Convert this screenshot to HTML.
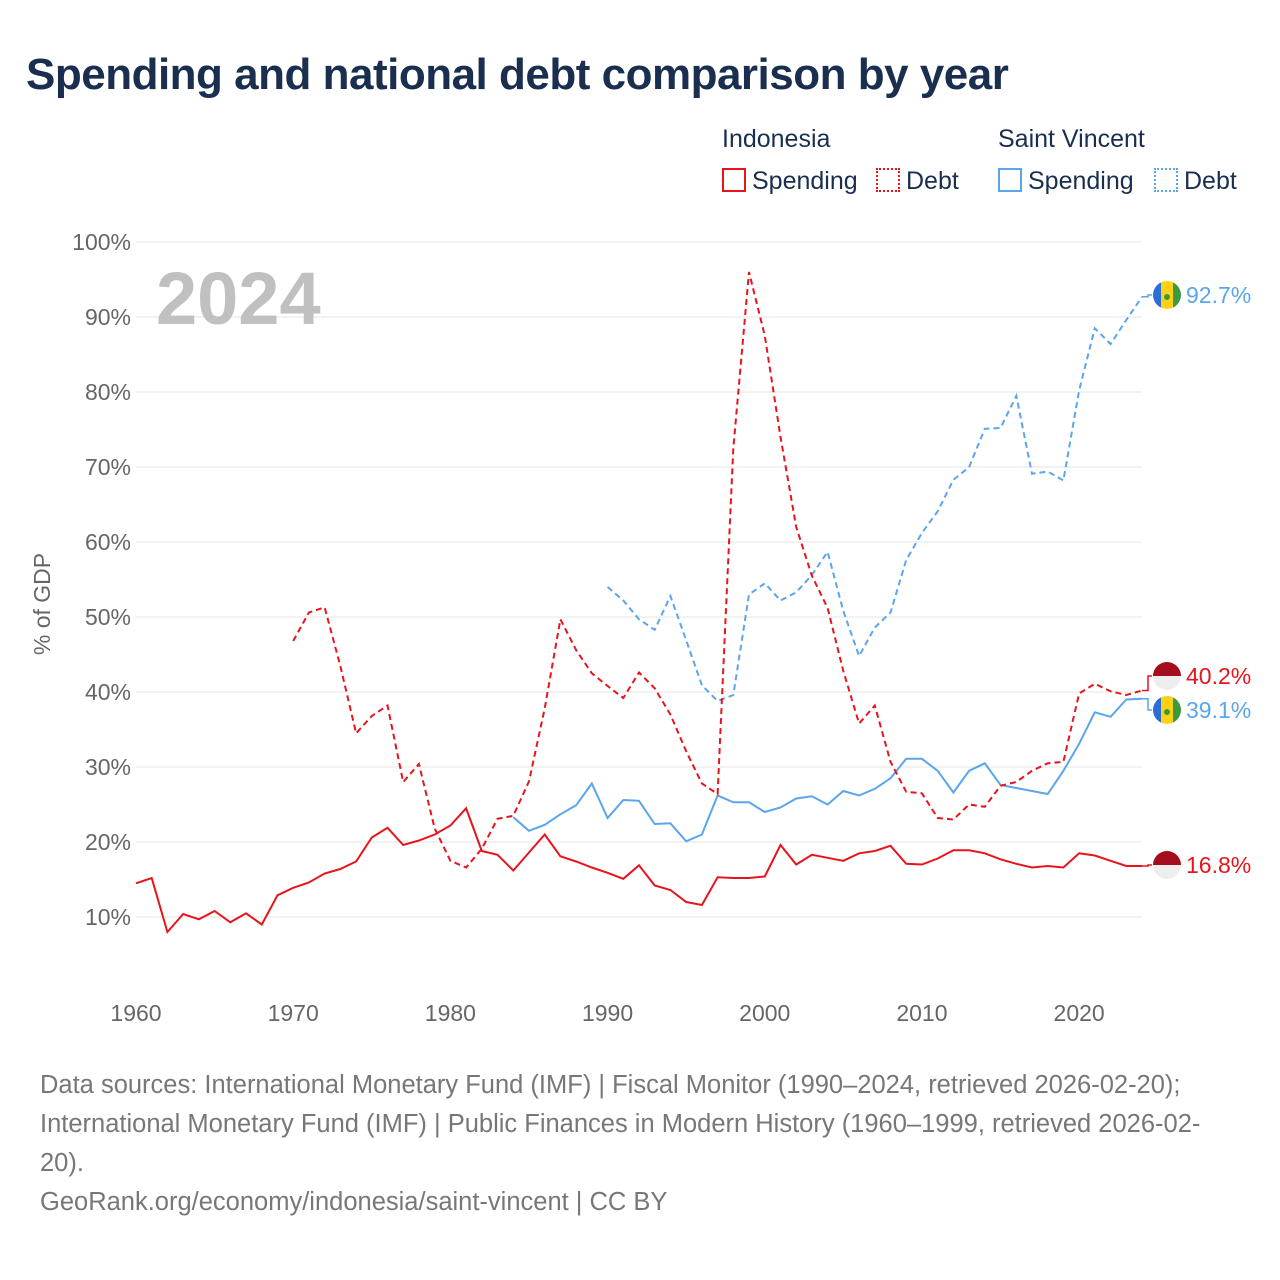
<!DOCTYPE html>
<html><head><meta charset="utf-8"><style>
body{margin:0;background:#fff;font-family:"Liberation Sans",sans-serif}
#wrap{position:relative;width:1280px;height:1280px;overflow:hidden}
.t{position:absolute;white-space:nowrap}
</style></head><body><div id="wrap">
<div class="t" style="left:26px;top:50px;font-size:44px;font-weight:bold;color:#1a2e4f;letter-spacing:-0.5px">Spending and national debt comparison by year</div>
<div class="t" style="left:722px;top:125px;font-size:25px;color:#1a2e4f">Indonesia</div>
<div class="t" style="left:998px;top:125px;font-size:25px;color:#1a2e4f">Saint Vincent</div>
<div class="t" style="left:722px;top:167px;font-size:25px;color:#1a2e4f"><span style="display:inline-block;width:24px;height:24px;border:2px solid #e8141c;box-sizing:border-box;vertical-align:-3px;margin-right:6px"></span>Spending</div>
<div class="t" style="left:876px;top:167px;font-size:25px;color:#1a2e4f"><span style="display:inline-block;width:24px;height:24px;border:2px dotted #e8141c;box-sizing:border-box;vertical-align:-3px;margin-right:6px"></span>Debt</div>
<div class="t" style="left:998px;top:167px;font-size:25px;color:#1a2e4f"><span style="display:inline-block;width:24px;height:24px;border:2px solid #5aa5ec;box-sizing:border-box;vertical-align:-3px;margin-right:6px"></span>Spending</div>
<div class="t" style="left:1154px;top:167px;font-size:25px;color:#1a2e4f"><span style="display:inline-block;width:24px;height:24px;border:2px dotted #5aa5ec;box-sizing:border-box;vertical-align:-3px;margin-right:6px"></span>Debt</div>
<svg id="chart" width="1280" height="1280" style="position:absolute;left:0;top:0"></svg>
<div class="t" style="left:40px;top:1066px;font-size:25.5px;line-height:39px;color:#777">Data sources: International Monetary Fund (IMF) | Fiscal Monitor (1990–2024, retrieved 2026-02-20);<br>International Monetary Fund (IMF) | Public Finances in Modern History (1960–1999, retrieved 2026-02-<br>20).<br>GeoRank.org/economy/indonesia/saint-vincent | CC BY</div>
</div>
<script>
const yTicks=[10,20,30,40,50,60,70,80,90,100];
const xTicks=[1960,1970,1980,1990,2000,2010,2020];
const idSpendStart=1960;
const idSpend=[14.5,15.2,8,10.4,9.7,10.8,9.3,10.5,9,12.9,13.9,14.6,15.8,16.4,17.4,20.6,21.9,19.6,20.2,21,22.2,24.5,18.8,18.3,16.2,18.6,21,18.1,17.4,16.6,15.9,15.1,16.9,14.2,13.6,12,11.6,15.3,15.2,15.2,15.4,19.6,17,18.3,17.9,17.5,18.5,18.8,19.5,17.1,17,17.8,18.9,18.9,18.5,17.7,17.1,16.6,16.8,16.6,18.5,18.2,17.5,16.8,16.8];
const idDebtStart=1970;
const idDebt=[46.8,50.6,51.3,43.5,34.5,36.8,38.2,28,30.4,21.8,17.5,16.6,19.1,23.1,23.5,28.1,37.8,49.7,45.6,42.5,40.8,39.2,42.6,40.5,37,32.1,27.8,26.4,72.5,96,87.5,74,62,55.5,51.2,42.8,35.8,38.2,30.7,26.7,26.5,23.2,23,25,24.7,27.5,28,29.5,30.5,30.7,39.8,41.1,40.1,39.6,40.2];
const svSpendStart=1984;
const svSpend=[23.3,21.5,22.3,23.7,24.9,27.8,23.2,25.6,25.5,22.4,22.5,20.1,21,26.2,25.3,25.3,24,24.6,25.8,26.1,25,26.8,26.2,27.1,28.5,31.1,31.1,29.5,26.6,29.5,30.5,27.6,27.2,26.8,26.4,29.5,33.1,37.3,36.7,39,39.1];
const svDebtStart=1990;
const svDebt=[54,52.2,49.7,48.3,52.8,46.9,40.9,38.8,39.6,53,54.5,52.2,53.3,55.6,58.7,50.8,44.8,48.6,50.6,57.6,61.2,64.1,68.3,70,75.1,75.2,79.5,69.1,69.4,68.2,80.2,88.5,86.4,89.6,92.7];
const X=y=>136+(y-1960)*(1006/64);
const Y=v=>992-v*7.5;
const NS='http://www.w3.org/2000/svg';
const svg=document.getElementById('chart');
function mk(tag,attrs){const e=document.createElementNS(NS,tag);for(const k in attrs)e.setAttribute(k,attrs[k]);svg.appendChild(e);return e;}
yTicks.forEach(v=>{
 const l=mk('line',{x1:136,x2:1142,y1:Y(v),y2:Y(v),stroke:'#e6e6e6','stroke-width':1});
 
 
 const t=mk('text',{x:131,y:Y(v)+8,'text-anchor':'end','font-size':23,fill:'#666','font-family':'Liberation Sans'});
 t.textContent=v+'%';
 
 
});
xTicks.forEach(y=>{
 const t=mk('text',{x:X(y),y:1021,'text-anchor':'middle','font-size':23,fill:'#666','font-family':'Liberation Sans'});
 t.textContent=y;
 
 
});
const yt=mk('text',{x:50,y:604,'text-anchor':'middle','font-size':23,fill:'#666','font-family':'Liberation Sans',transform:'rotate(-90 50 604)'});
yt.textContent='% of GDP';


const yr=mk('text',{x:156,y:324,'font-size':74,'font-weight':'bold',fill:'#c0c0c0','font-family':'Liberation Sans'});
yr.textContent='2024';


function series(start,vals,color,dash,name){
 const d=vals.map((v,i)=>(i?'L':'M')+X(start+i).toFixed(1)+' '+Y(v).toFixed(1)).join(' ');
 const p=mk('path',{d:d,fill:'none',stroke:color,'stroke-width':2,'stroke-dasharray':dash?'6 4':'none'});
 
 
}
series(svDebtStart,svDebt,'#5aa5ec',true,'sv-debt-line');
series(svSpendStart,svSpend,'#5aa5ec',false,'sv-spending-line');
series(idDebtStart,idDebt,'#e8141c',true,'indonesia-debt-line');
series(idSpendStart,idSpend,'#e8141c',false,'indonesia-spending-line');
function endLabel(v,ly,color,flag,name){
 const yv=Y(v);
 const c=mk('path',{d:`M1142 ${yv} L1148 ${yv} L1148 ${ly} L1152 ${ly}`,fill:'none',stroke:color,'stroke-width':1.5});
 
 
 const g=mk('g',{});
 
 
 const cx=1167,r=14;
 if(flag==='id'){
  g.innerHTML=`<clipPath id="c${name}"><circle cx="${cx}" cy="${ly}" r="${r}"/></clipPath><g clip-path="url(#c${name})"><rect x="${cx-r}" y="${ly-r}" width="28" height="14" fill="#a50d1f"/><rect x="${cx-r}" y="${ly}" width="28" height="14" fill="#eee"/></g>`;
 }else{
  g.innerHTML=`<clipPath id="c${name}"><circle cx="${cx}" cy="${ly}" r="${r}"/></clipPath><g clip-path="url(#c${name})"><rect x="${cx-r}" y="${ly-r}" width="8" height="28" fill="#2a6fd6"/><rect x="${cx-6}" y="${ly-r}" width="12" height="28" fill="#fcd116"/><rect x="${cx+6}" y="${ly-r}" width="8" height="28" fill="#3c9a3c"/><circle cx="${cx}" cy="${ly+2}" r="3" fill="#3c9a3c"/></g>`;
 }
 const t=mk('text',{x:1186,y:ly+8,'font-size':23,fill:color,'font-family':'Liberation Sans'});
 t.textContent=v.toFixed(1)+'%';
 
 
}
endLabel(svDebt[svDebt.length-1],295,'#5aa5ec','sv','sv-debt');
endLabel(idDebt[idDebt.length-1],676,'#e8141c','id','indonesia-debt');
endLabel(svSpend[svSpend.length-1],710,'#5aa5ec','sv','sv-spending');
endLabel(idSpend[idSpend.length-1],865,'#e8141c','id','indonesia-spending');
</script></body></html>
